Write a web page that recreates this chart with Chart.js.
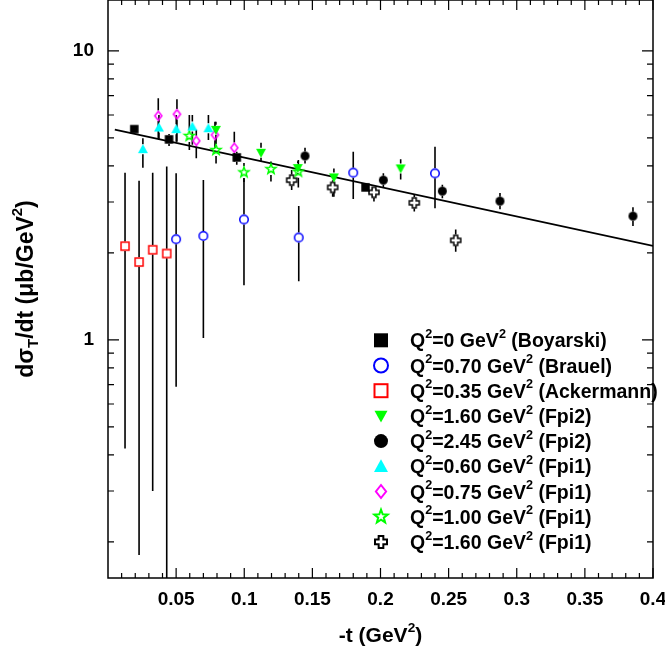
<!DOCTYPE html>
<html><head><meta charset="utf-8">
<script src="https://cdn.jsdelivr.net/npm/chart.js@4/dist/chart.umd.min.js"></script>
<style>html,body{margin:0;padding:0;background:#fff;}</style>
</head><body>
<canvas id="c" width="665" height="647"></canvas>
<script>
// ---------------- data ----------------
const boyT  = [0.0193, 0.0448, 0.0945, 0.189];
const boyY  = [5.36, 4.94, 4.28, 3.37];
const boyLo = [5.22, 4.69, 4.04, 3.27];
const boyHi = [5.50, 5.16, 4.48, 3.48];

const brauelT  = [0.050, 0.070, 0.0998, 0.140, 0.180, 0.240];
const brauelY  = [2.23, 2.29, 2.61, 2.26, 3.79, 3.77];
const brauelLo = [0.688, 1.016, 1.547, 1.597, 3.07, 2.853];
const brauelHi = [3.77, 3.574, 3.632, 2.905, 4.48, 4.66];

const ackT  = [0.0125, 0.0228, 0.0328, 0.0431];
const ackY  = [2.11, 1.86, 2.05, 1.99];
const ackLo = [0.421, 0.180, 0.300, 0.10];
const ackHi = [3.79, 3.55, 3.79, 3.98];

const fpi2aT  = [0.0792, 0.1123, 0.1393, 0.1658, 0.2148];
const fpi2aY  = [5.33, 4.44, 3.93, 3.65, 3.92];
const fpi2aLo = [4.90, 4.14, 3.75, 3.13, 3.59];
const fpi2aHi = [5.69, 4.81, 4.15, 3.92, 4.22];

const fpi2bT  = [0.1446, 0.2021, 0.2454, 0.2877, 0.3853];
const fpi2bY  = [4.33, 3.57, 3.27, 3.02, 2.68];
const fpi2bLo = [4.08, 3.37, 3.09, 2.83, 2.48];
const fpi2bHi = [4.62, 3.77, 3.44, 3.22, 2.88];

const fpi1aT  = [0.0256, 0.0374, 0.0501, 0.0619, 0.0737];
const fpi1aY  = [4.57, 5.43, 5.36, 5.47, 5.40];
const fpi1aLo = [3.94, 4.92, 4.85, 4.73, 4.92];
const fpi1aHi = [4.99, 6.00, 6.00, 6.00, 6.00];

const fpi1bT  = [0.0369, 0.0506, 0.0648, 0.0785, 0.0927];
const fpi1bY  = [5.96, 6.04, 4.88, 5.12, 4.62];
const fpi1bLo = [4.99, 4.85, 4.25, 4.61, 4.14];
const fpi1bHi = [6.86, 6.80, 5.33, 5.69, 5.25];

const fpi1cT  = [0.0597, 0.0793, 0.0998, 0.1196, 0.1397];
const fpi1cY  = [5.08, 4.54, 3.80, 3.90, 3.82];
const fpi1cLo = [4.54, 4.08, 3.52, 3.53, 3.37];
const fpi1cHi = [6.00, 5.04, 4.09, 4.14, 4.19];

const fpi1dT  = [0.1348, 0.1649, 0.1952, 0.2248, 0.2552];
const fpi1dY  = [3.57, 3.37, 3.24, 2.98, 2.21];
const fpi1dLo = [3.30, 3.13, 3.01, 2.78, 2.02];
const fpi1dHi = [3.87, 3.57, 3.37, 3.17, 2.41];

const fitT = [0.005, 0.4];
const fitY = [5.34, 2.115];

const legendLabels = [
  'Q^{2}=0 GeV^{2} (Boyarski)',
  'Q^{2}=0.70 GeV^{2} (Brauel)',
  'Q^{2}=0.35 GeV^{2} (Ackermann)',
  'Q^{2}=1.60 GeV^{2} (Fpi2)',
  'Q^{2}=2.45 GeV^{2} (Fpi2)',
  'Q^{2}=0.60 GeV^{2} (Fpi1)',
  'Q^{2}=0.75 GeV^{2} (Fpi1)',
  'Q^{2}=1.00 GeV^{2} (Fpi1)',
  'Q^{2}=1.60 GeV^{2} (Fpi1)'
];

const xTickValues = [0.05, 0.1, 0.15, 0.2, 0.25, 0.3, 0.35, 0.4];
const xTickLabels = ['0.05', '0.1', '0.15', '0.2', '0.25', '0.3', '0.35', '0.4'];
const xMinorTicks = [0.01,0.02,0.03,0.04,0.06,0.07,0.08,0.09,0.11,0.12,0.13,0.14,0.16,0.17,0.18,0.19,
                     0.21,0.22,0.23,0.24,0.26,0.27,0.28,0.29,0.31,0.32,0.33,0.34,0.36,0.37,0.38,0.39];
const yTickValues = [1, 10];
const yTickLabels = ['1', '10'];
const yMinorTicks = [0.2,0.3,0.4,0.5,0.6,0.7,0.8,0.9,2,3,4,5,6,7,8,9];

const xTitle = '-t (GeV^{2})';
const yTitle = 'd\u03C3_{T}/dt (\u03BCb/GeV^{2})';

// ---------------- drawing helpers ----------------
const FONT = '"Liberation Sans", Arial, Helvetica, sans-serif';

function drawMarker(ctx, kind, cx, cy, s, color, lw) {
  ctx.save();
  ctx.lineWidth = lw;
  ctx.strokeStyle = color;
  ctx.fillStyle = color;
  ctx.lineJoin = 'miter';
  ctx.beginPath();
  const h = s / 2;
  switch (kind) {
    case 'squareF':
      ctx.fillRect(cx - h, cy - h, s, s); break;
    case 'squareO':
      ctx.strokeRect(cx - h + lw / 2, cy - h + lw / 2, s - lw, s - lw); break;
    case 'circleO':
      ctx.arc(cx, cy, h - lw / 2, 0, Math.PI * 2); ctx.stroke(); break;
    case 'circleF':
      ctx.arc(cx, cy, h, 0, Math.PI * 2); ctx.fill(); break;
    case 'triUp':
      ctx.moveTo(cx, cy - h); ctx.lineTo(cx + h, cy + h * 0.8); ctx.lineTo(cx - h, cy + h * 0.8);
      ctx.closePath(); ctx.fill(); break;
    case 'triDown':
      ctx.moveTo(cx, cy + h); ctx.lineTo(cx + h, cy - h * 0.8); ctx.lineTo(cx - h, cy - h * 0.8);
      ctx.closePath(); ctx.fill(); break;
    case 'diamondO':
      ctx.moveTo(cx, cy - h + lw / 2); ctx.lineTo(cx + s * 0.34, cy); ctx.lineTo(cx, cy + h - lw / 2); ctx.lineTo(cx - s * 0.34, cy);
      ctx.closePath(); ctx.stroke(); break;
    case 'starO': {
      const R = h - lw / 2, r = R * 0.42;
      for (let i = 0; i < 10; i++) {
        const a = -Math.PI / 2 + i * Math.PI / 5;
        const rr = i % 2 === 0 ? R : r;
        const px = cx + rr * Math.cos(a), py = cy + rr * Math.sin(a);
        if (i === 0) ctx.moveTo(px, py); else ctx.lineTo(px, py);
      }
      ctx.closePath(); ctx.stroke(); break;
    }
    case 'crossO': {
      const H = h - lw / 2, a = s / 6;
      const pts = [[-a,-H],[a,-H],[a,-a],[H,-a],[H,a],[a,a],[a,H],[-a,H],[-a,a],[-H,a],[-H,-a],[-a,-a]];
      pts.forEach((p, i) => { if (i === 0) ctx.moveTo(cx + p[0], cy + p[1]); else ctx.lineTo(cx + p[0], cy + p[1]); });
      ctx.closePath(); ctx.fillStyle = '#fff'; ctx.fill(); ctx.stroke(); break;
    }
  }
  ctx.restore();
}

function markerCanvas(kind, s, color, lw) {
  const pad = 3;
  const c = document.createElement('canvas');
  c.width = c.height = Math.ceil(s + 2 * pad);
  drawMarker(c.getContext('2d'), kind, c.width / 2, c.height / 2, s, color, lw);
  return c;
}

// rich text with ^{..} and _{..}
function parseRich(str) {
  const segs = [];
  let i = 0, buf = '';
  while (i < str.length) {
    if ((str[i] === '^' || str[i] === '_') && str[i + 1] === '{') {
      if (buf) { segs.push({t: buf, m: 0}); buf = ''; }
      const end = str.indexOf('}', i);
      segs.push({t: str.slice(i + 2, end), m: str[i] === '^' ? 1 : -1});
      i = end + 1;
    } else { buf += str[i]; i++; }
  }
  if (buf) segs.push({t: buf, m: 0});
  return segs;
}
function richWidth(ctx, segs, size) {
  let w = 0;
  segs.forEach(sg => {
    ctx.font = 'bold ' + (sg.m ? size * 0.65 : size) + 'px ' + FONT;
    w += ctx.measureText(sg.t).width;
  });
  return w;
}
function drawRich(ctx, str, x, baseline, size, align) {
  const segs = parseRich(str);
  const w = richWidth(ctx, segs, size);
  let cx = align === 'center' ? x - w / 2 : x;
  ctx.textBaseline = 'alphabetic';
  ctx.textAlign = 'left';
  ctx.fillStyle = '#000';
  segs.forEach(sg => {
    const sz = sg.m ? size * 0.65 : size;
    ctx.font = 'bold ' + sz + 'px ' + FONT;
    const dy = sg.m === 1 ? -size * 0.48 : (sg.m === -1 ? size * 0.22 : 0);
    ctx.fillText(sg.t, cx, baseline + dy);
    cx += ctx.measureText(sg.t).width;
  });
}

// ---------------- series definitions ----------------
function pts(T, Y) { return T.map((t, i) => ({x: t, y: Y[i]})); }

const series = [
  {T: boyT,    Y: boyY,    lo: boyLo,    hi: boyHi,    kind: 'squareF',  color: '#000000', s: 8.5, lk: 14},
  {T: brauelT, Y: brauelY, lo: brauelLo, hi: brauelHi, kind: 'circleO',  color: '#0000ff', s: 10,  lk: 16},
  {T: ackT,    Y: ackY,    lo: ackLo,    hi: ackHi,    kind: 'squareO',  color: '#ff0000', s: 9.5, lk: 15},
  {T: fpi2aT,  Y: fpi2aY,  lo: fpi2aLo,  hi: fpi2aHi,  kind: 'triDown',  color: '#00ff00', s: 10,  lk: 13},
  {T: fpi2bT,  Y: fpi2bY,  lo: fpi2bLo,  hi: fpi2bHi,  kind: 'circleF',  color: '#000000', s: 9,   lk: 14},
  {T: fpi1aT,  Y: fpi1aY,  lo: fpi1aLo,  hi: fpi1aHi,  kind: 'triUp',    color: '#00ffff', s: 10,  lk: 14},
  {T: fpi1bT,  Y: fpi1bY,  lo: fpi1bLo,  hi: fpi1bHi,  kind: 'diamondO', color: '#ff00ff', s: 10.5, lk: 15},
  {T: fpi1cT,  Y: fpi1cY,  lo: fpi1cLo,  hi: fpi1cHi,  kind: 'starO',    color: '#00ff00', s: 12,  lk: 16},
  {T: fpi1dT,  Y: fpi1dY,  lo: fpi1dLo,  hi: fpi1dHi,  kind: 'crossO',   color: '#000000', s: 11.5, lk: 14}
];

const datasets = series.map((sr, i) => ({
  label: legendLabels[i],
  data: pts(sr.T, sr.Y),
  errLo: sr.lo, errHi: sr.hi, gap: sr.s / 2,
  pointStyle: markerCanvas(sr.kind, sr.s, sr.color, 1.5),
  pointRadius: sr.s / 2,
  showLine: false
}));
datasets.push({
  label: 'fit',
  data: pts(fitT, fitY),
  showLine: true,
  borderColor: '#000',
  borderWidth: 1.6,
  pointRadius: 0,
  fill: false
});

// ---------------- plugins ----------------
const errorBars = {
  id: 'errorBars',
  beforeDatasetsDraw(chart) {
    const {ctx, chartArea: a, scales: {x, y}} = chart;
    ctx.save();
    ctx.beginPath(); ctx.rect(a.left, a.top, a.right - a.left, a.bottom - a.top); ctx.clip();
    ctx.strokeStyle = '#000'; ctx.lineWidth = 1.6;
    chart.data.datasets.forEach(ds => {
      if (!ds.errLo) return;
      ds.data.forEach((p, i) => {
        const px = x.getPixelForValue(p.x);
        const py = y.getPixelForValue(p.y);
        const pHi = y.getPixelForValue(ds.errHi[i]);
        const pLo = y.getPixelForValue(ds.errLo[i]);
        ctx.beginPath();
        if (pHi < py - ds.gap) { ctx.moveTo(px, pHi); ctx.lineTo(px, py - ds.gap); }
        if (pLo > py + ds.gap) { ctx.moveTo(px, py + ds.gap); ctx.lineTo(px, pLo); }
        ctx.stroke();
      });
    });
    ctx.restore();
  }
};

const frame = {
  id: 'frame',
  afterDatasetsDraw(chart) {
    const {ctx, chartArea: a, scales: {x, y}} = chart;
    ctx.save();
    ctx.strokeStyle = '#000'; ctx.lineWidth = 1.5;
    ctx.strokeRect(a.left, a.top, a.right - a.left, a.bottom - a.top);
    ctx.lineWidth = 1.2;
    ctx.beginPath();
    const xt = (v, len) => { const px = x.getPixelForValue(v); ctx.moveTo(px, a.bottom); ctx.lineTo(px, a.bottom - len); ctx.moveTo(px, a.top); ctx.lineTo(px, a.top + len); };
    const yt = (v, len) => { const py = y.getPixelForValue(v); ctx.moveTo(a.left, py); ctx.lineTo(a.left + len, py); ctx.moveTo(a.right, py); ctx.lineTo(a.right - len, py); };
    xMinorTicks.forEach(v => xt(v, 5));
    xTickValues.forEach(v => xt(v, 10));
    yMinorTicks.forEach(v => yt(v, 6));
    yTickValues.forEach(v => yt(v, 11));
    ctx.stroke();
    ctx.restore();
  }
};

const legendAndTitles = {
  id: 'legendAndTitles',
  afterDraw(chart) {
    const {ctx, chartArea: a} = chart;
    ctx.save();
    // legend
    const mx = 381, tx = 410, y0 = 340.3, dy = 25.2, fs = 19.5;
    series.forEach((sr, i) => {
      const cy = y0 + i * dy;
      drawMarker(ctx, sr.kind, mx, cy, sr.lk, sr.color, 2);
      drawRich(ctx, legendLabels[i], tx, cy + fs * 0.36, fs, 'left');
    });
    // axis titles
    drawRich(ctx, xTitle, (a.left + a.right) / 2, 641.7, 21, 'center');
    ctx.save();
    ctx.translate(33, (a.top + a.bottom) / 2);
    ctx.rotate(-Math.PI / 2);
    drawRich(ctx, yTitle, 0, 0, 23, 'center');
    ctx.restore();
    ctx.restore();
  }
};

const tickFont = {family: FONT, size: 19, weight: 'bold'};

new Chart(document.getElementById('c'), {
  type: 'scatter',
  data: {datasets},
  options: {
    responsive: false,
    animation: false,
    devicePixelRatio: 1,
    layout: {autoPadding: false, padding: {top: 0, right: 12, bottom: 0, left: 0}},
    plugins: {legend: {display: false}, tooltip: {enabled: false}},
    scales: {
      x: {
        type: 'linear', min: 0, max: 0.4,
        grid: {display: false, drawTicks: false},
        border: {display: false},
        ticks: {font: tickFont, color: '#000', padding: 10, maxRotation: 0, autoSkip: false,
                callback: (v, i) => xTickLabels[i]},
        afterBuildTicks: s => { s.ticks = xTickValues.map(v => ({value: v})); },
        afterFit: s => { s.height = 69; s.paddingLeft = 0; s.paddingRight = 0; }
      },
      y: {
        type: 'logarithmic', min: 0.15, max: 15,
        grid: {display: false, drawTicks: false},
        border: {display: false},
        ticks: {font: tickFont, color: '#000', padding: 14, autoSkip: false,
                callback: (v, i) => yTickLabels[i]},
        afterBuildTicks: s => { s.ticks = yTickValues.map(v => ({value: v})); },
        afterFit: s => { s.width = 108; s.paddingTop = 0; s.paddingBottom = 0; }
      }
    }
  },
  plugins: [errorBars, frame, legendAndTitles]
});
</script>
</body></html>
